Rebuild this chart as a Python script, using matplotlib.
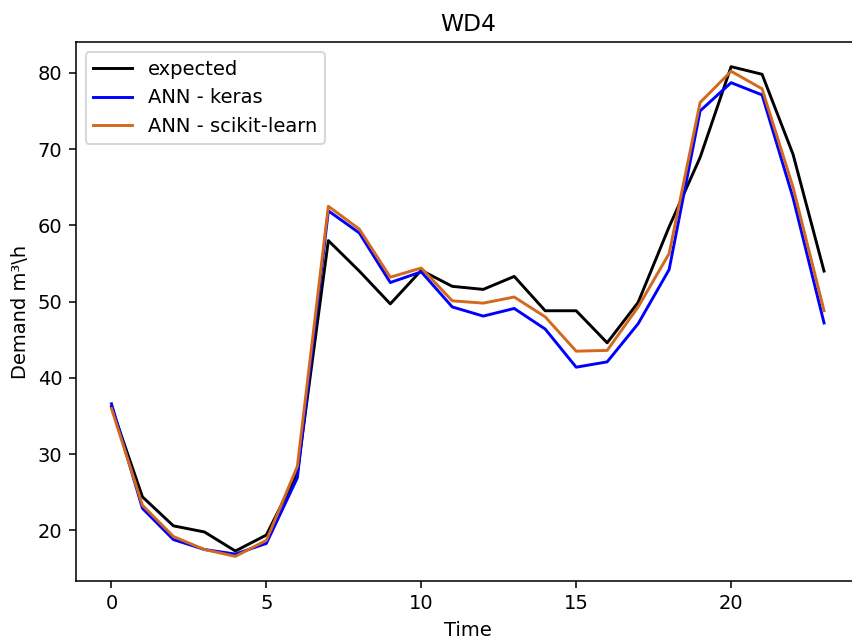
import numpy as np
import matplotlib
matplotlib.use('Agg')
import matplotlib.pyplot as plt

# hourly demand, WD4
hours = np.arange(24)
expected = [36.2, 24.4, 20.6, 19.8, 17.3, 19.4, 27.5, 58.0, 54.0, 49.7, 54.1, 52.0,
            51.6, 53.3, 48.8, 48.8, 44.6, 49.9, 59.8, 68.9, 80.8, 79.8, 69.3, 54.0]
ann_keras = [36.6, 22.9, 18.8, 17.5, 16.9, 18.3, 26.9, 61.9, 59.0, 52.5, 53.9, 49.3,
             48.1, 49.1, 46.4, 41.4, 42.1, 47.1, 54.2, 75.0, 78.7, 77.1, 63.6, 47.2]
ann_sklearn = [36.0, 23.3, 19.2, 17.5, 16.6, 18.7, 28.4, 62.5, 59.5, 53.2, 54.4, 50.1,
               49.8, 50.6, 48.0, 43.5, 43.6, 49.3, 56.3, 76.1, 80.2, 77.9, 65.0, 48.8]

DPI = 140
fig, ax = plt.subplots(figsize=(852 / DPI, 639 / DPI), dpi=DPI)
ax.plot(hours, expected, color='black', label='expected')
ax.plot(hours, ann_keras, color='blue', label='ANN - keras')
ax.plot(hours, ann_sklearn, color='chocolate', label='ANN - scikit-learn')

ax.set_title('WD4')
ax.set_xlabel('Time')
ax.set_ylabel('Demand m³\\h')
ax.legend(loc='upper left')

# right spine sits just past the image edge, as in the original crop
plt.subplots_adjust(left=0.089, right=1.009, top=0.934, bottom=0.091)
plt.savefig('out.png', dpi=DPI)
